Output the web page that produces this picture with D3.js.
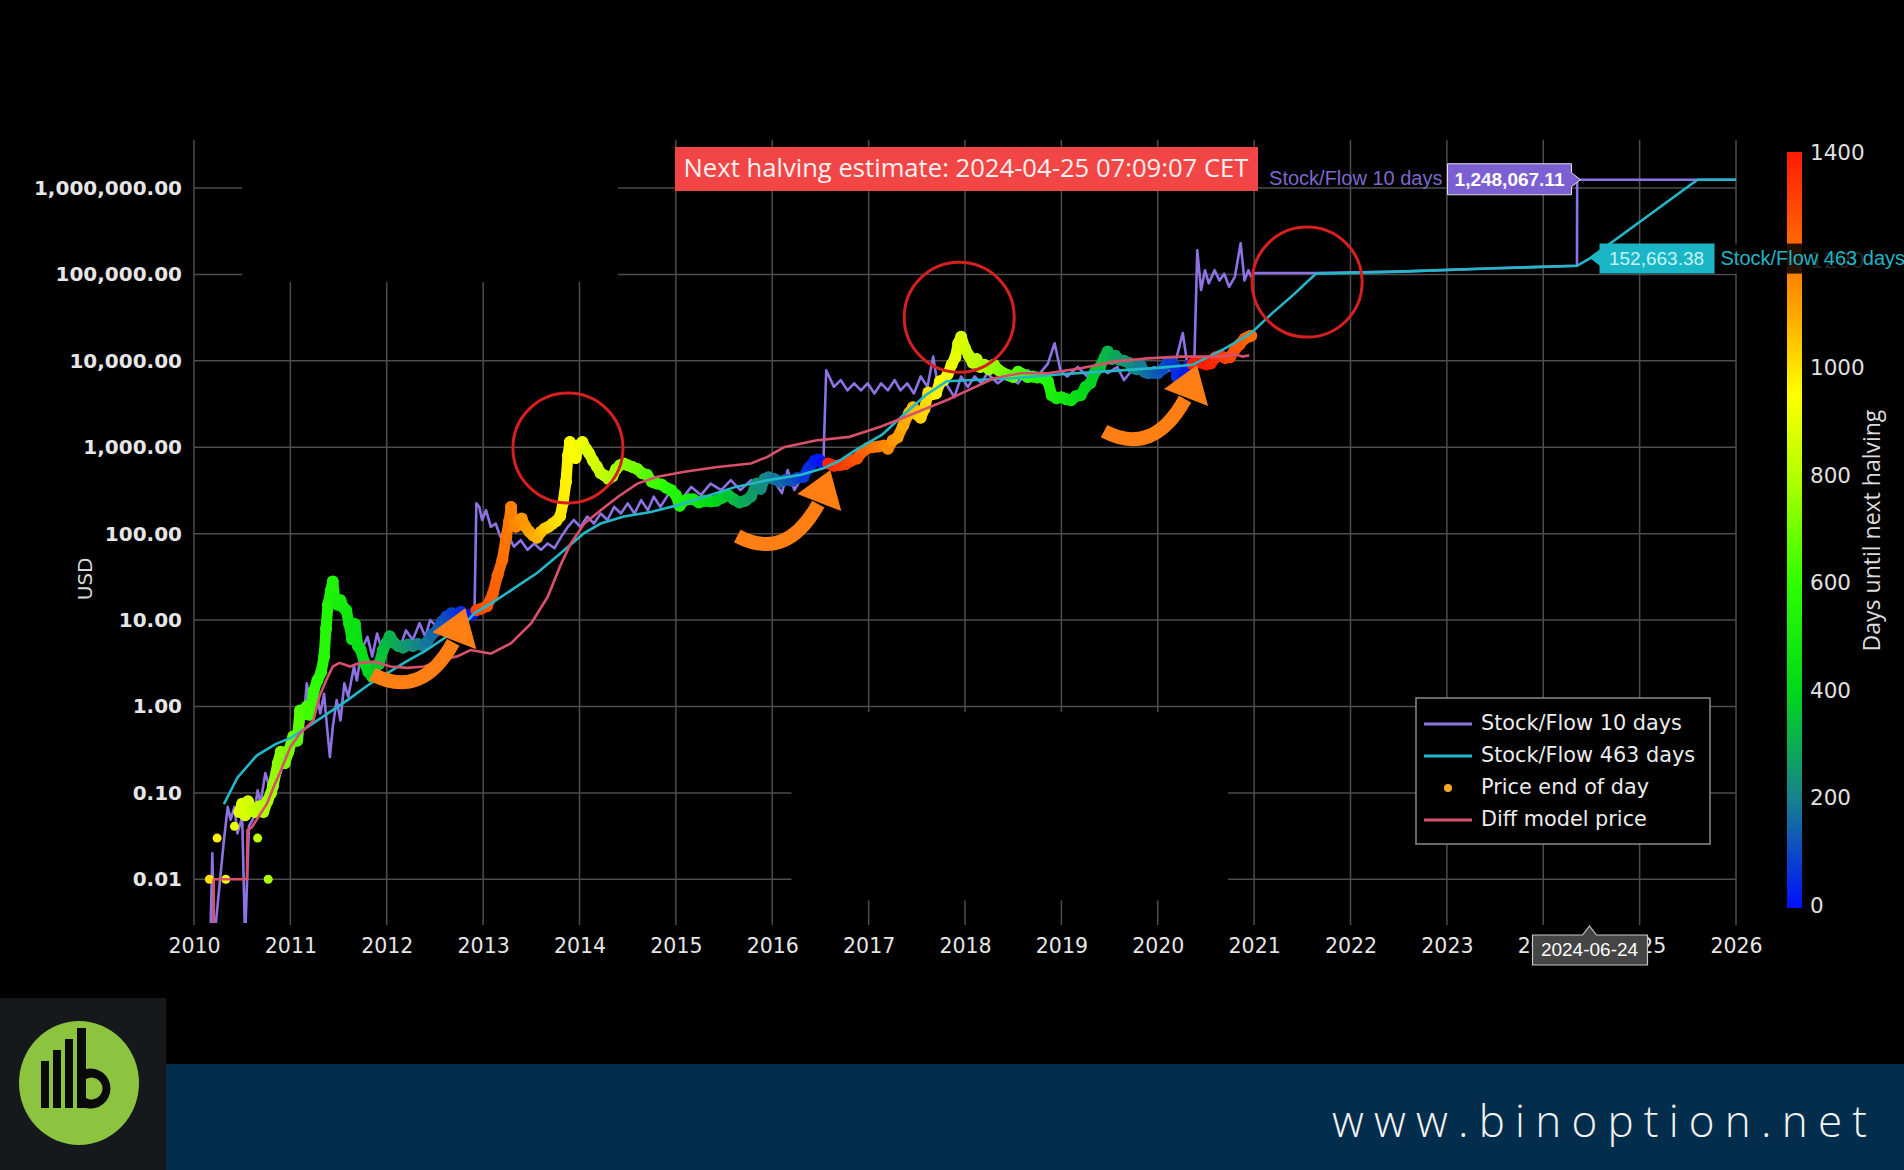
<!DOCTYPE html>
<html><head><meta charset="utf-8">
<script src="https://cdn.jsdelivr.net/npm/d3@7"></script>
<style>html,body{margin:0;padding:0;background:#000;overflow:hidden}svg{display:block}</style>
</head><body>
<svg id="chart" width="1904" height="1170"></svg>
<script>
// ---------------- DATA ----------------
const yearTicks = [2010,2011,2012,2013,2014,2015,2016,2017,2018,2019,2020,2021,2022,2023,2024,2025,2026];
const yTicks = [0.01,0.1,1,10,100,1000,10000,100000,1000000];
const colorTicks = [0,200,400,600,800,1000,1200,1400];
const halvings = [2012.908, 2016.521, 2020.358, 2024.315];

// Stock/Flow 10 days model [decimal year, USD]
const sf10 = [[2010.17,0.002],[2010.19,0.02],[2010.21,0.002],[2010.31,0.028],[2010.35,0.069],[2010.38,0.049],[2010.42,0.069],[2010.45,0.034],[2010.5,0.052],[2010.53,0.002],[2010.57,0.041],[2010.62,0.052],[2010.66,0.107],[2010.69,0.076],[2010.74,0.17],[2010.8,0.1],[2010.85,0.24],[2010.9,0.17],[2010.95,0.34],[2011.0,0.26],[2011.07,0.58],[2011.12,0.41],[2011.17,1.85],[2011.21,1.0],[2011.26,1.7],[2011.31,0.83],[2011.35,1.4],[2011.38,0.58],[2011.41,0.26],[2011.44,0.58],[2011.48,1.19],[2011.52,0.69],[2011.56,1.85],[2011.6,1.3],[2011.66,2.9],[2011.69,2.0],[2011.74,4.5],[2011.8,6.4],[2011.85,3.8],[2011.9,7],[2011.95,4.5],[2012.0,5.9],[2012.07,7],[2012.14,4.9],[2012.2,7.6],[2012.27,5.9],[2012.34,9.2],[2012.4,6.4],[2012.45,10],[2012.52,8.4],[2012.59,11],[2012.66,9.2],[2012.73,12],[2012.8,10],[2012.87,12],[2012.91,11.5],[2012.93,224],[2012.96,204],[2012.99,144],[2013.03,187],[2013.08,120],[2013.13,131],[2013.18,92],[2013.25,100],[2013.32,71],[2013.39,84],[2013.46,65],[2013.53,77],[2013.6,65],[2013.67,77],[2013.74,68],[2013.81,92],[2013.88,120],[2013.94,144],[2014.01,120],[2014.08,158],[2014.15,131],[2014.22,171],[2014.29,144],[2014.36,204],[2014.43,171],[2014.5,224],[2014.57,171],[2014.64,244],[2014.71,187],[2014.77,268],[2014.84,204],[2014.95,320],[2015.05,244],[2015.16,348],[2015.26,280],[2015.36,380],[2015.47,320],[2015.57,417],[2015.67,320],[2015.78,417],[2015.88,348],[2015.99,455],[2016.1,295],[2016.16,545],[2016.23,320],[2016.33,500],[2016.4,650],[2016.47,710],[2016.53,650],[2016.56,7800],[2016.64,5000],[2016.71,6000],[2016.78,4560],[2016.85,5500],[2016.92,4560],[2016.99,5500],[2017.06,4200],[2017.13,5500],[2017.2,4560],[2017.27,6000],[2017.33,4560],[2017.4,5500],[2017.47,4200],[2017.54,6600],[2017.61,5000],[2017.67,11200],[2017.73,4200],[2017.8,5500],[2017.89,3800],[2017.96,6600],[2018.03,5000],[2018.1,6600],[2018.17,5500],[2018.23,7200],[2018.34,5500],[2018.44,6600],[2018.55,5500],[2018.65,7800],[2018.75,6600],[2018.86,9300],[2018.93,16000],[2018.99,7800],[2019.06,6600],[2019.17,8500],[2019.27,6600],[2019.38,9300],[2019.48,7200],[2019.58,8500],[2019.65,6000],[2019.76,8500],[2019.86,7200],[2019.96,8500],[2020.07,7200],[2020.17,8500],[2020.26,21000],[2020.31,8500],[2020.36,9300],[2020.38,10200],[2020.41,190000],[2020.45,66000],[2020.49,112000],[2020.53,79000],[2020.59,112000],[2020.64,85000],[2020.69,102000],[2020.74,72000],[2020.8,94000],[2020.86,230000],[2020.9,85000],[2020.94,112000],[2020.97,94000],[2021.0,104000],[2021.62,104000],[2022.5,108000],[2023.5,118000],[2024.35,126000],[2024.352,1248067.11],[2026.0,1248067.11]];

// Stock/Flow 463 days model
const sf463 = [[2010.31,0.074],[2010.45,0.15],[2010.65,0.27],[2010.85,0.37],[2011.0,0.43],[2011.2,0.6],[2011.4,0.85],[2011.6,1.2],[2011.8,1.75],[2012.0,2.4],[2012.2,3.3],[2012.4,4.4],[2012.6,6.2],[2012.8,8.8],[2012.91,12],[2013.1,16],[2013.35,24.5],[2013.56,35],[2013.8,59],[2014.04,100],[2014.22,131],[2014.46,158],[2014.74,178],[2015.02,214],[2015.3,268],[2015.62,348],[2015.96,417],[2016.3,480],[2016.53,570],[2016.7,700],[2016.86,920],[2017.14,1400],[2017.35,2300],[2017.59,4000],[2017.81,5800],[2018.5,6300],[2019.0,7000],[2019.5,7600],[2020.0,8300],[2020.36,9000],[2020.69,13800],[2020.97,21000],[2021.18,35000],[2021.42,60000],[2021.64,102000],[2022.5,108000],[2023.5,118000],[2024.35,126000],[2024.48,152663.38],[2025.6,1248067.11],[2026.0,1248067.11]];

// Diff model price
const diffModel = [[2010.2,0.002],[2010.205,0.01],[2010.55,0.01],[2010.555,0.037],[2010.6,0.04],[2010.76,0.076],[2010.83,0.12],[2010.9,0.18],[2011.0,0.34],[2011.1,0.49],[2011.17,0.58],[2011.24,0.69],[2011.3,1.3],[2011.37,2.0],[2011.44,2.9],[2011.51,3.2],[2011.62,2.9],[2011.72,3.2],[2011.87,3.3],[2012.04,2.9],[2012.21,2.8],[2012.39,2.9],[2012.56,3.45],[2012.73,3.8],[2012.87,4.5],[2013.08,4.1],[2013.29,5.4],[2013.5,9.2],[2013.67,18.6],[2013.81,45],[2013.91,77],[2014.05,131],[2014.22,187],[2014.4,268],[2014.6,380],[2014.81,455],[2015.09,520],[2015.43,590],[2015.78,650],[2015.95,775],[2016.12,1000],[2016.45,1200],[2016.8,1320],[2017.02,1580],[2017.13,1740],[2017.47,2460],[2017.82,3550],[2018.03,4560],[2018.3,6300],[2018.58,7200],[2018.86,7200],[2019.2,8200],[2019.55,9800],[2019.9,10700],[2020.24,11200],[2020.59,11200],[2020.73,11500],[2020.8,12000],[2020.88,11200],[2020.95,11600]];

// Price end of day: isolated early points, then the continuous trail
const priceEarly = [[2010.16,0.01],[2010.24,0.03],[2010.33,0.01],[2010.42,0.041],[2010.66,0.03],[2010.77,0.01]];
const price = [[2010.47,0.06],[2010.5,0.075],[2010.53,0.055],[2010.56,0.08],[2010.6,0.065],[2010.63,0.06],[2010.68,0.07],[2010.72,0.06],[2010.76,0.08],[2010.8,0.1],[2010.82,0.12],[2010.87,0.22],[2010.9,0.3],[2010.94,0.22],[2010.98,0.3],[2011.03,0.45],[2011.07,0.4],[2011.1,0.9],[2011.13,0.8],[2011.17,1.0],[2011.2,0.8],[2011.24,1.5],[2011.28,2.0],[2011.32,2.5],[2011.35,3.8],[2011.37,8],[2011.39,15],[2011.42,22],[2011.44,28],[2011.46,18],[2011.49,15],[2011.52,17],[2011.55,14],[2011.58,13],[2011.61,9],[2011.64,6],[2011.67,9],[2011.7,5],[2011.73,4.5],[2011.77,3.2],[2011.81,2.5],[2011.85,2.2],[2011.88,2.8],[2011.92,3.1],[2011.96,4.5],[2012.0,5.5],[2012.03,6.5],[2012.07,5.5],[2012.12,5],[2012.17,4.8],[2012.22,5.2],[2012.27,5],[2012.32,5.3],[2012.37,5.1],[2012.42,5.6],[2012.47,6.8],[2012.52,7.6],[2012.57,9.5],[2012.62,11],[2012.67,12],[2012.72,11.5],[2012.77,12.5],[2012.82,11],[2012.87,11.5],[2012.9,12],[2012.93,13],[2012.98,13.5],[2013.04,14.5],[2013.1,20],[2013.15,33],[2013.2,50],[2013.24,92],[2013.27,140],[2013.29,204],[2013.31,130],[2013.34,120],[2013.37,140],[2013.4,150],[2013.44,120],[2013.48,105],[2013.52,95],[2013.56,90],[2013.6,105],[2013.64,115],[2013.68,120],[2013.72,130],[2013.76,140],[2013.8,160],[2013.83,230],[2013.86,400],[2013.88,800],[2013.9,1150],[2013.93,900],[2013.96,750],[2013.99,1050],[2014.03,1150],[2014.07,950],[2014.1,850],[2014.14,700],[2014.18,600],[2014.22,500],[2014.26,470],[2014.3,430],[2014.34,460],[2014.38,560],[2014.42,620],[2014.46,650],[2014.5,620],[2014.55,590],[2014.6,560],[2014.65,500],[2014.7,480],[2014.75,400],[2014.8,380],[2014.85,370],[2014.9,340],[2014.95,320],[2015.0,280],[2015.04,210],[2015.08,240],[2015.13,250],[2015.18,250],[2015.24,230],[2015.3,240],[2015.36,235],[2015.42,240],[2015.48,260],[2015.54,280],[2015.6,250],[2015.66,230],[2015.72,240],[2015.78,270],[2015.84,380],[2015.88,330],[2015.92,430],[2015.96,450],[2016.02,430],[2016.08,400],[2016.14,420],[2016.2,410],[2016.26,440],[2016.32,450],[2016.38,580],[2016.44,700],[2016.48,720],[2016.52,660],[2016.58,650],[2016.64,610],[2016.7,620],[2016.76,640],[2016.82,700],[2016.88,740],[2016.94,900],[2016.99,980],[2017.04,1000],[2017.1,1020],[2017.16,1050],[2017.2,960],[2017.25,1200],[2017.3,1300],[2017.36,1800],[2017.42,2500],[2017.46,2900],[2017.5,2400],[2017.54,2200],[2017.58,2800],[2017.62,4300],[2017.66,4100],[2017.7,4200],[2017.74,5800],[2017.78,6000],[2017.82,7000],[2017.86,9000],[2017.9,11000],[2017.93,16000],[2017.96,19000],[2018.0,14000],[2018.04,11500],[2018.08,9500],[2018.12,10500],[2018.16,8500],[2018.2,9000],[2018.25,8000],[2018.3,9000],[2018.35,7800],[2018.4,7200],[2018.45,6800],[2018.5,6500],[2018.55,7500],[2018.6,7000],[2018.65,6500],[2018.7,6600],[2018.75,6400],[2018.8,6400],[2018.86,5800],[2018.9,4000],[2018.95,3700],[2019.0,3800],[2019.05,3600],[2019.1,3500],[2019.15,3900],[2019.2,4000],[2019.25,5000],[2019.3,5500],[2019.35,7500],[2019.4,8500],[2019.45,11000],[2019.48,12800],[2019.52,10500],[2019.56,11500],[2019.6,10300],[2019.65,10000],[2019.7,9500],[2019.74,8300],[2019.78,8000],[2019.82,9000],[2019.86,7500],[2019.9,7200],[2019.95,7300],[2020.0,7200],[2020.05,8000],[2020.1,9500],[2020.14,9800],[2020.18,8500],[2020.2,6500],[2020.24,6800],[2020.28,7000],[2020.32,8800],[2020.36,9200],[2020.4,9600],[2020.45,9500],[2020.5,9100],[2020.55,9300],[2020.6,11000],[2020.65,11500],[2020.7,10800],[2020.75,11000],[2020.8,13500],[2020.85,15500],[2020.9,18000],[2020.94,19000],[2020.97,19500]];

// annotations (data coordinates)
const circleMarks = [[2013.88,980],[2017.94,32000],[2021.55,81700]];
const arrowTips = [[2012.815,13.7],[2016.602,545],[2020.408,8930]];
const hoverYear = 2024.48;
const hoverDate = "2024-06-24";
const hoverSF10 = 1248067.11;
const hoverSF463 = 152663.38;
const titleText = "Next halving estimate: 2024-04-25 07:09:07 CET";
const seriesNames = ["Stock/Flow 10 days","Stock/Flow 463 days","Price end of day","Diff model price"];

// ---------------- DRAW ----------------
const svg = d3.select("#chart");
svg.append("rect").attr("width",1904).attr("height",1170).attr("fill","#000");

const L=194, R=1736, T=140, B=923;
const x = d3.scaleLinear().domain([2010,2026]).range([L,R]);
const y = d3.scaleLog().domain([0.00312, 3.6e6]).range([B,T]);
const cDomain = [0,200,400,600,800,950,1120,1260,1400];
const cRange = ["#0010ff","#17808f","#00d81a","#2cff00","#b4ff00","#ffff00","#ff9c00","#ff5a00","#ff1a00"];
const color = d3.scaleLinear().domain(cDomain).range(cRange).clamp(true);
const daysUntil = t => { const h = halvings.find(v => v > t); return (h - t) * 365.25; };

const COL_SF10="#8c72e2", COL_SF463="#22b8c8", COL_DIFF="#d9506c";

svg.append("defs").append("clipPath").attr("id","plot").append("rect")
  .attr("x",L).attr("y",T).attr("width",R-L).attr("height",B-T);

// grid
const grid = svg.append("g").attr("stroke","#4d4d4d").attr("stroke-width",1.5);
grid.selectAll("line.v").data(yearTicks).join("line").attr("class","v")
  .attr("x1",d=>x(d)).attr("x2",d=>x(d)).attr("y1",T).attr("y2",B+2);
grid.selectAll("line.h").data(yTicks).join("line").attr("class","h")
  .attr("x1",L).attr("x2",R).attr("y1",d=>y(d)).attr("y2",d=>y(d));
// masked (erased) areas of the grid
const gridMasks = [[2010.5,2014.4,81700,3.6e6],[2016.2,2020.73,0.0057,0.86]];
svg.selectAll("rect.mask").data(gridMasks).join("rect").attr("class","mask")
  .attr("x",d=>x(d[0])).attr("width",d=>x(d[1])-x(d[0]))
  .attr("y",d=>y(d[3])).attr("height",d=>y(d[2])-y(d[3])).attr("fill","#000");

// axes labels
const axX = svg.append("g").attr("transform",`translate(0,${B})`)
  .call(d3.axisBottom(x).tickValues(yearTicks).tickFormat(d3.format("d")).tickSize(0).tickPadding(15));
axX.select(".domain").remove();
axX.selectAll("text").attr("fill","#e6e6e6").attr("font-family","DejaVu Sans").attr("font-size",20.5);
const axY = svg.append("g").attr("transform",`translate(${L},0)`)
  .call(d3.axisLeft(y).tickValues(yTicks).tickFormat(d3.format(",.2f")).tickSize(0).tickPadding(12));
axY.select(".domain").remove();
axY.selectAll("text").attr("fill","#e6e6e6").attr("font-family","DejaVu Sans").attr("font-weight","bold").attr("font-size",20);
svg.append("text").attr("transform",`translate(86,${y(30)}) rotate(-90)`).attr("text-anchor","middle")
  .attr("dominant-baseline","middle").attr("fill","#d8d8d8").attr("font-family","DejaVu Sans").attr("font-size",20).text("USD");

const plot = svg.append("g").attr("clip-path","url(#plot)");
const line = d3.line().x(d=>x(d[0])).y(d=>y(d[1]));

// S/F 10 days under the price trail
plot.append("path").datum(sf10).attr("d",line).attr("fill","none").attr("stroke",COL_SF10).attr("stroke-width",2.6).attr("stroke-linejoin","round");

// price trail
const segs = d3.pairs(price);
plot.append("g").selectAll("line").data(segs).join("line")
  .attr("x1",d=>x(d[0][0])).attr("y1",d=>y(d[0][1])).attr("x2",d=>x(d[1][0])).attr("y2",d=>y(d[1][1]))
  .attr("stroke",d=>{ const h=halvings.find(v=>v>d[0][0]); const t = d[1][0] > h ? d[0][0] : (d[0][0]+d[1][0])/2; return color(daysUntil(t)); })
  .attr("stroke-width",11).attr("stroke-linecap","round");
plot.append("g").selectAll("circle").data(price.concat(priceEarly)).join("circle")
  .attr("cx",d=>x(d[0])).attr("cy",d=>y(d[1])).attr("r",d=>priceEarly.includes(d)?4.5:6)
  .attr("fill",d=>color(daysUntil(d[0])));

plot.append("path").datum(sf463).attr("d",line).attr("fill","none").attr("stroke",COL_SF463).attr("stroke-width",2.6);
plot.append("path").datum(diffModel).attr("d",line).attr("fill","none").attr("stroke",COL_DIFF).attr("stroke-width",2.6);

// red circles
svg.selectAll("circle.ann").data(circleMarks).join("circle").attr("class","ann")
  .attr("cx",d=>x(d[0])).attr("cy",d=>y(d[1])).attr("r",55)
  .attr("fill","none").attr("stroke","#d42020").attr("stroke-width",3);
// orange curved arrows
const arrows = svg.selectAll("g.arrow").data(arrowTips).join("g").attr("class","arrow")
  .attr("transform",d=>`translate(${x(d[0])},${y(d[1])})`);
arrows.append("path").attr("d","M-93,66 Q-44,92 -12,34").attr("fill","none").attr("stroke","#ff7f14").attr("stroke-width",14);
arrows.append("path").attr("d","M0,0 L-33,24 L11,41 Z").attr("fill","#ff7f14");

// title box
const tg = svg.append("g");
tg.append("rect").attr("x",675).attr("y",147).attr("width",583).attr("height",44).attr("fill","#f24646");
const tt = tg.append("text").attr("x",966).attr("y",170).attr("text-anchor","middle").attr("dominant-baseline","middle")
  .attr("fill","#fff0f0").attr("font-family","Open Sans").attr("font-size",22).text(titleText);
{ const w = tt.node().getComputedTextLength(); tt.attr("font-size", 22*565/w); }

// hover labels
const hx = x(hoverYear);
const hy1 = y(hoverSF10), hy2 = y(hoverSF463);
const hg = svg.append("g").attr("font-family","Liberation Sans").attr("font-size",20);
hg.append("text").attr("x",hx-147).attr("y",hy1).attr("text-anchor","end").attr("dominant-baseline","middle")
  .attr("fill","#7e68cc").text(seriesNames[0]);
hg.append("path").attr("d",`M${hx-9},${hy1} L${hx-18},${hy1-7} L${hx-18},${hy1-16} L${hx-142},${hy1-16} L${hx-142},${hy1+15} L${hx-18},${hy1+15} L${hx-18},${hy1+7} Z`)
  .attr("fill","#7c5fd3").attr("stroke","#e0e0e0").attr("stroke-width",1);
hg.append("text").attr("x",hx-80).attr("y",hy1+1).attr("text-anchor","middle").attr("dominant-baseline","middle")
  .attr("fill","#fff").attr("font-weight","bold").attr("font-size",19).text(d3.format(",.2f")(hoverSF10));

hg.append("rect").attr("x",hx+127).attr("y",hy2-15).attr("width",200).attr("height",30).attr("fill","#000").attr("opacity",0.85);
hg.append("path").attr("d",`M${hx+1},${hy2} L${hx+10},${hy2-7} L${hx+10},${hy2-15} L${hx+125},${hy2-15} L${hx+125},${hy2+15} L${hx+10},${hy2+15} L${hx+10},${hy2+7} Z`)
  .attr("fill","#1bb6c6");
hg.append("text").attr("x",hx+67).attr("y",hy2+1).attr("text-anchor","middle").attr("dominant-baseline","middle")
  .attr("fill","#c4f4f6").attr("font-size",19).text(d3.format(",.2f")(hoverSF463));
hg.append("text").attr("x",hx+131).attr("y",hy2+1).attr("dominant-baseline","middle")
  .attr("fill","#20b4c4").text(seriesNames[1]);

// date tooltip
const dg = svg.append("g");
dg.append("path").attr("d",`M${hx},${B+3} L${hx+7},${B+12} L${hx+58},${B+12} L${hx+58},${B+42} L${hx-57},${B+42} L${hx-57},${B+12} L${hx-7},${B+12} Z`)
  .attr("fill","#454545").attr("stroke","#c8c8c8").attr("stroke-width",1.2);
dg.append("text").attr("x",hx).attr("y",B+28).attr("text-anchor","middle").attr("dominant-baseline","middle")
  .attr("fill","#fff").attr("font-family","Liberation Sans").attr("font-size",19).text(hoverDate);

// legend
const lg = svg.append("g").attr("transform","translate(1416,698)");
lg.append("rect").attr("width",294).attr("height",146).attr("fill","#000").attr("stroke","#8a8a8a").attr("stroke-width",1.5);
const legendColors = [COL_SF10, COL_SF463, "#f5a524", COL_DIFF];
const rows = lg.selectAll("g").data(seriesNames).join("g").attr("transform",(d,i)=>`translate(0,${26+i*32})`);
rows.each(function(d,i){
  const g = d3.select(this);
  if(i===2) g.append("circle").attr("cx",32).attr("cy",0).attr("r",4).attr("fill",legendColors[i]);
  else g.append("line").attr("x1",8).attr("x2",56).attr("stroke",legendColors[i]).attr("stroke-width",3);
});
rows.append("text").attr("x",65).attr("dominant-baseline","middle").attr("fill","#ececec")
  .attr("font-family","DejaVu Sans").attr("font-size",20.8).text(d=>d);

// colorbar
const cb = d3.scaleLinear().domain([0,1400]).range([907,154]);
const grad = svg.select("defs").append("linearGradient").attr("id","cbg").attr("x1",0).attr("x2",0).attr("y1",1).attr("y2",0);
grad.selectAll("stop").data(cDomain).join("stop").attr("offset",d=>d/1400).attr("stop-color",d=>color(d));
svg.insert("rect","g").attr("x",1787).attr("y",152).attr("width",15).attr("height",756).attr("fill","url(#cbg)");
svg.insert("g","g").selectAll("text").data(colorTicks).join("text")
  .attr("x",1810).attr("y",d=>cb(d)).attr("dominant-baseline","middle").attr("fill","#e0e0e0")
  .attr("font-family","DejaVu Sans").attr("font-size",21.5).text(d=>d);
svg.append("text").attr("transform",`translate(1874,${cb(700)}) rotate(-90)`).attr("text-anchor","middle")
  .attr("dominant-baseline","middle").attr("fill","#dcdcdc").attr("font-family","Open Sans").attr("font-size",23)
  .text("Days until next halving");

// footer
svg.append("rect").attr("x",166).attr("y",1064).attr("width",1738).attr("height",106).attr("fill","#032d4c");
svg.append("rect").attr("x",0).attr("y",998).attr("width",166).attr("height",172).attr("fill","#15191c");
const logo = svg.append("g").attr("transform","translate(79,1083)");
logo.append("ellipse").attr("rx",60).attr("ry",62).attr("fill","#8cc43f");
logo.append("rect").attr("x",-38).attr("y",-22).attr("width",8).attr("height",47).attr("fill","#0a0a0a");
logo.append("rect").attr("x",-26).attr("y",-33).attr("width",8).attr("height",58).attr("fill","#0a0a0a");
logo.append("rect").attr("x",-14).attr("y",-44).attr("width",8).attr("height",69).attr("fill","#0a0a0a");
logo.append("rect").attr("x",-2).attr("y",-55).attr("width",9).attr("height",80).attr("fill","#0a0a0a");
logo.append("path").attr("d","M7,-14 A20,20 0 1 1 7,25 L7,15 A11,11 0 1 0 7,-4 Z").attr("fill","#0a0a0a");
svg.append("text").attr("x",1332).attr("y",1137).attr("fill","#f2f2f2").attr("font-family","Open Sans")
  .attr("font-weight",300).attr("font-size",44).attr("letter-spacing",10.2).text("www.binoption.net");
</script>
</body></html>
